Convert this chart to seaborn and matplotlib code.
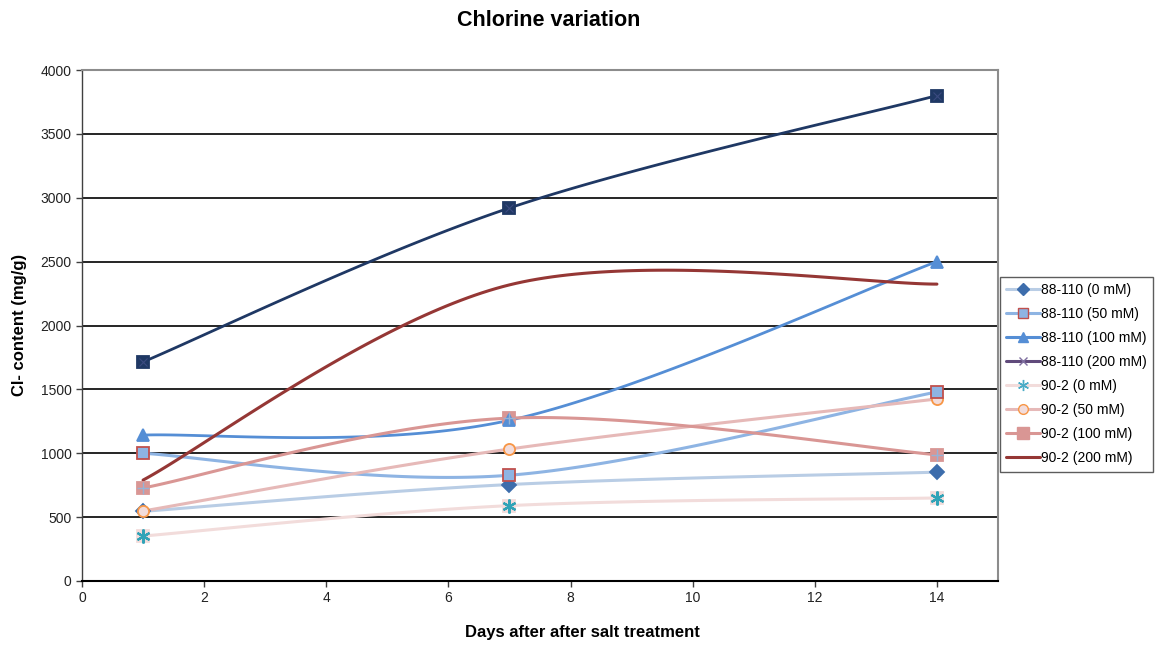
import numpy as np
import pandas as pd
import matplotlib
matplotlib.use("Agg")
import matplotlib.pyplot as plt
from matplotlib.lines import Line2D
import seaborn as sns

days = [1, 7, 14]
series_names = ["88-110 (0 mM)", "88-110 (50 mM)", "88-110 (100 mM)", "88-110 (200 mM)",
                "90-2 (0 mM)", "90-2 (50 mM)", "90-2 (100 mM)", "90-2 (200 mM)"]
v_88_0 = [545, 755, 852]
v_88_50 = [1000, 828, 1480]
v_88_100 = [1142, 1258, 2500]
v_88_200 = [1715, 2920, 3800]
v_90_0 = [352, 590, 650]
v_90_50 = [548, 1033, 1425]
v_90_100 = [728, 1275, 988]
v_90_200 = [790, 2318, 2324]
yticks = [0, 500, 1000, 1500, 2000, 2500, 3000, 3500, 4000]
xticks = [0, 2, 4, 6, 8, 10, 12, 14]

sns.set_theme(style="white")
plt.rcParams['font.family'] = ['Liberation Sans', 'DejaVu Sans']
plt.rcParams['text.color'] = 'black'

def smooth(x, y, n=60):
    # Excel-like Catmull-Rom (Bezier) smoothing through the data points
    P = np.column_stack([x, y]).astype(float)
    pts = []
    m = len(P)
    for i in range(m - 1):
        p0 = P[i - 1] if i > 0 else P[i]
        p1 = P[i]
        p2 = P[i + 1]
        p3 = P[i + 2] if i + 2 < m else P[i + 1]
        c1 = p1 + (p2 - p0) / 6.0
        c2 = p2 - (p3 - p1) / 6.0
        t = np.linspace(0, 1, n)[:, None]
        seg = ((1 - t) ** 3) * p1 + 3 * ((1 - t) ** 2) * t * c1 + 3 * (1 - t) * t ** 2 * c2 + t ** 3 * p2
        pts.append(seg if i == 0 else seg[1:])
    pts = np.vstack(pts)
    return pts[:, 0], pts[:, 1]

fig = plt.figure(figsize=(11.59, 6.46), dpi=100)
ax = fig.add_axes([82 / 1159, 1 - 581 / 646, (998 - 82) / 1159, (581 - 70) / 646])

styles = [
    dict(lc="#b9cde5", lw=2.2, m="D", ms=7, mfc="#3d6dac", mec="#3d6dac"),
    dict(lc="#8eb4e3", lw=2.2, m="s", ms=8, mfc="#8eb4e3", mec="#c0504d"),
    dict(lc="#558ed5", lw=2.0, m="^", ms=9, mfc="#558ed5", mec="#558ed5"),
    dict(lc="#1f3864", lw=2.0, m="s", ms=8, mfc="#1f3864", mec="#1f3864"),
    dict(lc="#f2dcdb", lw=2.2, m="s", ms=8, mfc="#f2dcdb", mec="#f2dcdb"),
    dict(lc="#e6b9b8", lw=2.2, m="o", ms=8, mfc="#f2dcdb", mec="#f79646"),
    dict(lc="#d99694", lw=2.2, m="s", ms=9, mfc="#d99694", mec="#d99694"),
    dict(lc="#953735", lw=2.2, m=None, ms=0, mfc="#953735", mec="#953735"),
]
all_vals = [v_88_0, v_88_50, v_88_100, v_88_200, v_90_0, v_90_50, v_90_100, v_90_200]

for gl in yticks[1:]:
    ax.axhline(gl, color="black", lw=1.2, zorder=1)

order = [4, 0, 5, 1, 6, 2, 7, 3]
for i in order:
    vals = all_vals[i]
    st = styles[i]
    sx, sy = smooth(days, vals)
    df = pd.DataFrame({"x": sx, "y": sy})
    sns.lineplot(data=df, x="x", y="y", ax=ax, color=st["lc"], lw=st["lw"], sort=False,
                 estimator=None, zorder=3 + i * 0.1)
for i in order:
    vals = all_vals[i]
    st = styles[i]
    if st["m"] is not None:
        ax.plot(days, vals, ls="none", marker=st["m"], ms=st["ms"], mfc=st["mfc"],
                mec=st["mec"], mew=1.3, zorder=5)
# overlay glyphs
ax.plot(days, v_88_200, ls="none", marker="x", ms=6, mec="#3b4a80", mew=0.8, zorder=6)
ax.plot(days, v_90_0, ls="none", marker=(6, 2, 0), ms=10, mec="#31a3b7", mew=1.6, zorder=6)
ax.plot(days, v_90_100, ls="none", marker="+", ms=9, mec="#95b3d7", mew=1.0, zorder=6)

ax.set_xlim(0, 15)
ax.set_ylim(0, 4000)
ax.set_xticks(xticks)
ax.set_yticks(yticks)
ax.tick_params(axis="both", direction="out", length=4, width=1, color="#404040",
               labelsize=10, labelcolor="#222222", bottom=True, left=True)
ax.set_xlabel("")
ax.set_ylabel("")
for s in ["top", "right"]:
    ax.spines[s].set_color("#8c8c8c")
    ax.spines[s].set_linewidth(1.5)
ax.spines["left"].set_color("#404040")
ax.spines["left"].set_linewidth(1.0)
ax.spines["bottom"].set_color("black")
ax.spines["bottom"].set_linewidth(1.5)

fig.text(549 / 1159, 1 - 20 / 646, "Chlorine variation", ha="center", va="center",
         fontsize=15.5, fontweight="bold", color="black")
fig.text(582 / 1159, 1 - 632 / 646, "Days after after salt treatment", ha="center", va="center",
         fontsize=12, fontweight="bold", color="black")
fig.text(20 / 1159, 1 - 325 / 646, "Cl- content (mg/g)", ha="center", va="center",
         fontsize=12, fontweight="bold", rotation=90, color="black")

leg_styles = [
    dict(color="#b9cde5", marker="D", mfc="#3d6dac", mec="#3d6dac", ms=6),
    dict(color="#8eb4e3", marker="s", mfc="#8eb4e3", mec="#c0504d", ms=7),
    dict(color="#558ed5", marker="^", mfc="#558ed5", mec="#558ed5", ms=7),
    dict(color="#604a7b", marker="x", mfc="#604a7b", mec="#7f6fa0", ms=6),
    dict(color="#f2dcdb", marker=(6, 2, 0), mfc="#4bacc6", mec="#4bacc6", ms=8),
    dict(color="#e6b9b8", marker="o", mfc="#f2dcdb", mec="#f79646", ms=7),
    dict(color="#d99694", marker="s", mfc="#d99694", mec="#d99694", ms=8),
    dict(color="#953735", marker=None, mfc="#953735", mec="#953735", ms=0),
]
handles = [Line2D([], [], lw=2.2, **s) for s in leg_styles]
leg = fig.legend(handles, series_names, loc="upper left",
                 bbox_to_anchor=(1000 / 1159, 1 - 277 / 646), frameon=True, fontsize=10,
                 handlelength=2.4, handletextpad=0.1, labelspacing=0.72, borderpad=0.45,
                 borderaxespad=0, fancybox=False)
leg.get_frame().set_edgecolor("#333333")
leg.get_frame().set_linewidth(1.0)
for t in leg.get_texts():
    t.set_color("black")

fig.savefig("out.png", dpi=100, facecolor="white")
